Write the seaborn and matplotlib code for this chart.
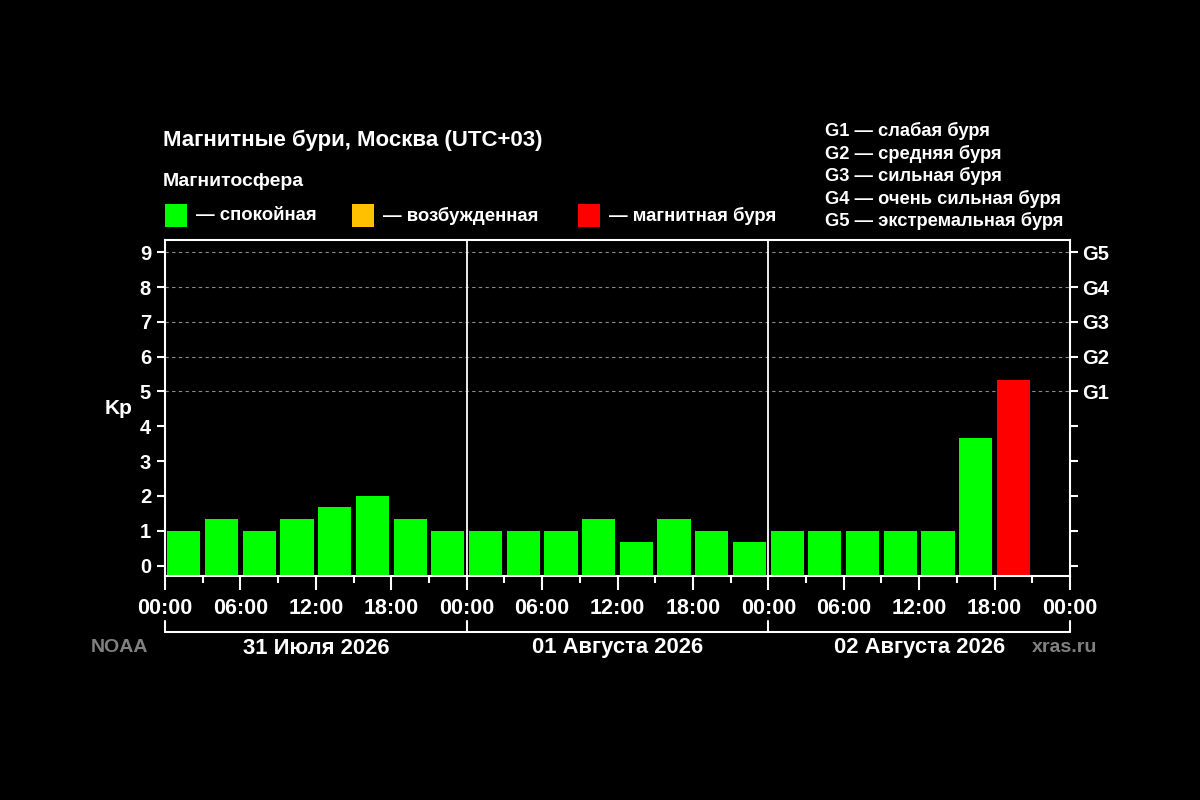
import numpy as np
import pandas as pd
import matplotlib
matplotlib.use("Agg")
import matplotlib.pyplot as plt
from matplotlib.patches import Rectangle
import matplotlib.transforms as mtransforms
import seaborn as sns

# Kp index per 3-hour slot, starting 31 July 00:00 (UTC+03)
kp_values = [1.0, 1.33, 1.0, 1.33, 1.67, 2.0, 1.33, 1.0,
             1.0, 1.0, 1.0, 1.33, 0.67, 1.33, 1.0, 0.67,
             1.0, 1.0, 1.0, 1.0, 1.0, 3.67, 5.33]
day_labels = ["31 Июля 2026", "01 Августа 2026", "02 Августа 2026"]
hour_labels = ["00:00", "06:00", "12:00", "18:00"]
g_labels = ["G1", "G2", "G3", "G4", "G5"]
g_levels = [5, 6, 7, 8, 9]
g_names = ["G1 — слабая буря", "G2 — средняя буря", "G3 — сильная буря",
           "G4 — очень сильная буря", "G5 — экстремальная буря"]
state_names = ["спокойная", "возбужденная", "магнитная буря"]
state_colors = ["#00ff00", "#ffc000", "#ff0000"]


def kp_state(kp):
    if kp >= 5:
        return "магнитная буря"
    if kp >= 4:
        return "возбужденная"
    return "спокойная"


df = pd.DataFrame({
    "hour": np.arange(len(kp_values)) * 3 + 1.5,
    "kp": kp_values,
})
df["state"] = df["kp"].apply(kp_state)

sns.set_style("dark")
bold = dict(fontweight="bold", color="white")
plt.rcParams["font.family"] = ["Liberation Sans", "DejaVu Sans"]

fig = plt.figure(figsize=(12, 8), dpi=100, facecolor="black")


def fx(x):
    return x / 1200


def fy(y):
    return 1 - y / 800


ax = fig.add_axes([fx(165), fy(576), fx(1070) - fx(165), fy(240) - fy(576)])
ax.set_facecolor("black")

y_bottom = -0.3
sns.barplot(data=df, x="hour", y="kp", hue="state", hue_order=state_names,
            palette=dict(zip(state_names, state_colors)), native_scale=True,
            dodge=False, width=0.88, legend=False, saturation=1, ax=ax,
            linewidth=0)
# bars reach down to the frame, as in the original
for p in ax.patches:
    h = p.get_height()
    p.set_y(y_bottom)
    p.set_height(h + (0 - y_bottom))

ax.set_xlim(0, 72)
ax.set_ylim(y_bottom, 9.35)

# dashed storm levels
for lvl in g_levels:
    ax.axhline(lvl, color="#8a8a8a", lw=0.8, ls=(0, (3, 3)), zorder=0)
# day boundaries
for d in [24, 48]:
    ax.axvline(d, color="white", lw=1.3, zorder=3)

for s in ax.spines.values():
    s.set_visible(True)
    s.set_color("white")
    s.set_linewidth(1.5)

ax.set_xticks(np.arange(0, 73, 6))
ax.set_xticks(np.arange(0, 73, 3), minor=True)
ax.set_xticklabels(hour_labels * 3 + ["00:00"])
ax.set_yticks(range(10))
ax.set_yticklabels([str(i) for i in range(10)])
ax.tick_params(axis="x", which="major", length=10, width=1.5, color="white",
               labelcolor="white", labelsize=15.5, pad=6, bottom=True)
ax.tick_params(axis="x", which="minor", length=5, width=1.5, color="white",
               bottom=True)
ax.tick_params(axis="y", length=6, width=1.5, color="white",
               labelcolor="white", labelsize=14.5, pad=4, left=True)
for lab in ax.get_xticklabels() + ax.get_yticklabels():
    lab.set_fontweight("bold")
ax.set_xlabel("")
ax.set_ylabel("Kp", fontsize=15, labelpad=15, rotation=0, va="center", **bold)
ax.grid(False)

axr = ax.twinx()
axr.set_ylim(ax.get_ylim())
axr.set_yticks(range(10))
axr.set_yticklabels([""] * 5 + g_labels)
axr.tick_params(axis="y", length=6, width=1.5, color="white",
                labelcolor="white", labelsize=14.5, pad=3, right=True)
for lab in axr.get_yticklabels():
    lab.set_fontweight("bold")
for s in axr.spines.values():
    s.set_visible(False)
axr.grid(False)

# day bracket under the time axis
trans = mtransforms.blended_transform_factory(ax.transData, ax.transAxes)
y_br = (576 - 632) / 336
y_br_top = (576 - 621) / 336
ax.plot([0, 72], [y_br, y_br], color="white", lw=1.5, transform=trans,
        clip_on=False)
for d in [0, 24, 48, 72]:
    ax.plot([d, d], [y_br, y_br_top], color="white", lw=1.5, transform=trans,
            clip_on=False)
for i, lab in enumerate(day_labels):
    ax.text(i * 24 + 12, (576 - 648) / 336, lab, transform=trans, ha="center",
            va="center", fontsize=15.8, **bold)

fig.text(fx(120), fy(648), "NOAA", ha="center", va="center", fontsize=14,
         fontweight="bold", color="#808080")
fig.text(fx(1065), fy(648), "xras.ru", ha="center", va="center", fontsize=14,
         fontweight="bold", color="#808080")

# header
fig.text(fx(163), fy(140), "Магнитные бури, Москва (UTC+03)", ha="left",
         va="center", fontsize=16, **bold)
fig.text(fx(163), fy(182), "Магнитосфера", ha="left", va="center",
         fontsize=14, **bold)
legend_x = [165, 352, 578]
for x0, name, col in zip(legend_x, state_names, state_colors):
    fig.add_artist(Rectangle((fx(x0), fy(227)), fx(22), fy(204) - fy(227),
                             transform=fig.transFigure, facecolor=col,
                             edgecolor="none"))
    fig.text(fx(x0 + 31), fy(216), "— " + name, ha="left", va="center",
             fontsize=13.4, **bold)

for i, line in enumerate(g_names):
    fig.text(fx(825), fy(131 + i * 22.5), line, ha="left", va="center",
             fontsize=13.2, **bold)

fig.savefig("out.png", dpi=100, facecolor="black")
